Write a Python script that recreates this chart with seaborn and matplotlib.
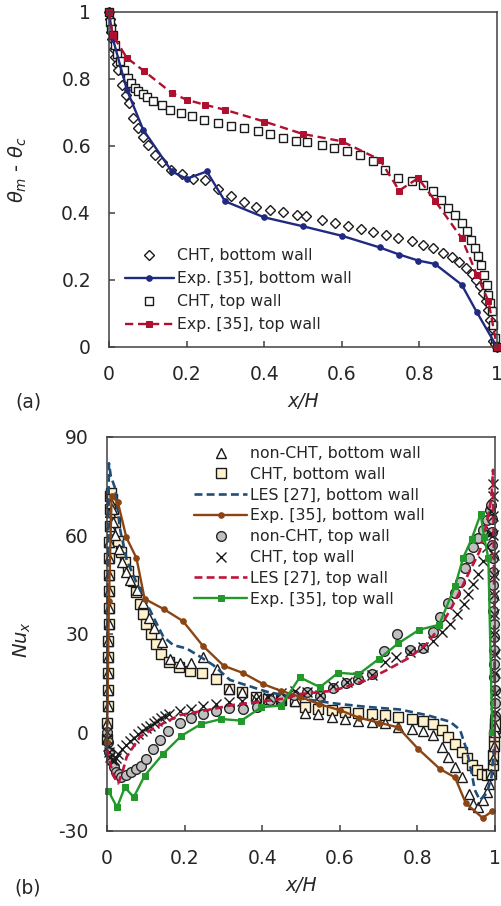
import matplotlib
matplotlib.use("Agg")
import matplotlib.pyplot as plt
import seaborn as sns

# ---------------- panel (a): theta_m - theta_c along the walls ----------------
a_cht_bot_x = [0.0, 0.002, 0.004, 0.006, 0.009, 0.012, 0.016, 0.020, 0.024, 0.033,
               0.043, 0.052, 0.063, 0.076, 0.088, 0.101, 0.119, 0.136, 0.160, 0.187,
               0.217, 0.247, 0.282, 0.314, 0.349, 0.380, 0.415, 0.449, 0.484, 0.509,
               0.548, 0.582, 0.617, 0.649, 0.681, 0.714, 0.746, 0.780, 0.810, 0.836,
               0.860, 0.883, 0.903, 0.920, 0.935, 0.946, 0.956, 0.965, 0.972, 0.978,
               0.982, 0.986, 0.991, 0.995, 1.0]
a_cht_bot_y = [1.0, 0.98, 0.96, 0.94, 0.92, 0.89, 0.865, 0.845, 0.828, 0.783,
               0.753, 0.728, 0.684, 0.654, 0.628, 0.604, 0.574, 0.552, 0.529, 0.515,
               0.502, 0.497, 0.473, 0.450, 0.433, 0.418, 0.410, 0.403, 0.395, 0.390,
               0.380, 0.370, 0.360, 0.353, 0.343, 0.335, 0.325, 0.317, 0.305, 0.296,
               0.281, 0.268, 0.254, 0.236, 0.218, 0.201, 0.181, 0.161, 0.136, 0.111,
               0.082, 0.058, 0.018, 0.008, 0.0]

a_cht_top_x = [0.0, 0.003, 0.006, 0.010, 0.015, 0.020, 0.028, 0.039, 0.050, 0.058,
               0.067, 0.076, 0.088, 0.099, 0.114, 0.136, 0.157, 0.186, 0.215, 0.246,
               0.280, 0.314, 0.349, 0.383, 0.415, 0.449, 0.481, 0.510, 0.548, 0.580,
               0.613, 0.647, 0.680, 0.711, 0.746, 0.780, 0.810, 0.836, 0.857, 0.875,
               0.892, 0.909, 0.922, 0.932, 0.943, 0.952, 0.960, 0.967, 0.973, 0.978,
               0.982, 0.986, 0.990, 0.995, 1.0]
a_cht_top_y = [1.0, 0.97, 0.95, 0.93, 0.90, 0.875, 0.853, 0.828, 0.803, 0.788,
               0.773, 0.765, 0.755, 0.745, 0.735, 0.721, 0.708, 0.699, 0.688, 0.678,
               0.669, 0.661, 0.654, 0.646, 0.636, 0.624, 0.616, 0.612, 0.604, 0.594,
               0.584, 0.572, 0.554, 0.529, 0.504, 0.494, 0.484, 0.465, 0.440, 0.415,
               0.393, 0.370, 0.345, 0.320, 0.296, 0.271, 0.246, 0.216, 0.186, 0.156,
               0.131, 0.106, 0.067, 0.027, 0.0]

a_exp_bot_x = [0.0, 0.01, 0.046, 0.088, 0.162, 0.200, 0.252, 0.299, 0.400, 0.501,
               0.600, 0.698, 0.748, 0.797, 0.840, 0.909, 0.948, 1.0]
a_exp_bot_y = [1.0, 0.92, 0.768, 0.649, 0.524, 0.502, 0.524, 0.435, 0.387, 0.360,
               0.332, 0.297, 0.276, 0.258, 0.248, 0.186, 0.104, 0.0]

a_exp_top_x = [0.0, 0.01, 0.046, 0.091, 0.162, 0.200, 0.247, 0.299, 0.400, 0.499,
               0.600, 0.698, 0.748, 0.797, 0.840, 0.909, 0.948, 0.978, 1.0]
a_exp_top_y = [1.0, 0.93, 0.863, 0.823, 0.758, 0.738, 0.723, 0.708, 0.673, 0.636,
               0.614, 0.559, 0.467, 0.504, 0.437, 0.325, 0.216, 0.137, 0.0]

# ---------------- panel (b): local Nusselt number ----------------
b_cht_bot_x = [0.000, 0.001, 0.0015, 0.002, 0.0025, 0.003, 0.0035, 0.004, 0.0045, 0.005,
               0.0055, 0.006, 0.0065, 0.007, 0.0075, 0.008, 0.010, 0.013, 0.016, 0.020,
               0.028, 0.037, 0.046, 0.054, 0.067, 0.076, 0.084, 0.093, 0.101, 0.114,
               0.127, 0.140, 0.160, 0.186, 0.215, 0.246, 0.282, 0.314, 0.349, 0.383,
               0.415, 0.449, 0.484, 0.510, 0.545, 0.580, 0.613, 0.648, 0.682, 0.716,
               0.749, 0.785, 0.815, 0.841, 0.863, 0.880, 0.897, 0.914, 0.927, 0.940,
               0.953, 0.966, 0.979, 0.989, 0.994, 0.996, 0.997, 0.998, 0.999, 1.0]
b_cht_bot_y = [-2, 3, 8, 13, 18, 23, 28, 33, 38, 43,
               48, 53, 58, 63, 68, 72, 73, 71, 68, 64,
               58.4, 54.9, 51.8, 49.3, 46.2, 42.7, 39.1, 36.1, 33.0, 30.0,
               27.0, 23.9, 21.4, 19.9, 18.6, 18.0, 16.3, 13.2, 12.2, 10.7,
               10.2, 9.9, 9.7, 7.7, 7.2, 6.7, 6.2, 5.9, 5.5, 5.2,
               4.7, 4.2, 3.5, 2.5, 0.7, -1.4, -3.4, -5.9, -7.9, -10.0,
               -11.5, -12.5, -13.0, -12.5, -10, -7, -4, -1, 1.5, 3]

b_noncht_bot_x = [0.000, 0.001, 0.0015, 0.002, 0.0025, 0.003, 0.0035, 0.004, 0.0045, 0.005,
                  0.0055, 0.006, 0.0065, 0.007, 0.008, 0.010, 0.013, 0.016, 0.020, 0.030,
                  0.040, 0.050, 0.060, 0.077, 0.094, 0.108, 0.121, 0.141, 0.162, 0.188,
                  0.216, 0.248, 0.283, 0.314, 0.349, 0.383, 0.415, 0.449, 0.484, 0.510,
                  0.545, 0.580, 0.613, 0.648, 0.682, 0.716, 0.749, 0.785, 0.815, 0.841,
                  0.863, 0.880, 0.897, 0.914, 0.932, 0.944, 0.957, 0.970, 0.979, 0.985,
                  0.991, 0.995, 0.997, 0.999, 1.0]
b_noncht_bot_y = [-2, 3, 8, 13, 18, 23, 28, 33, 38, 43,
                  48, 53, 58, 63, 67, 70, 68, 64, 60, 56,
                  52, 49, 46.5, 43.4, 39.3, 35.0, 31.7, 27.7, 22.3, 21.1,
                  21.1, 23.0, 19.3, 13.2, 12.2, 10.7, 10.2, 9.9, 9.7, 6.0,
                  5.6, 4.6, 4.1, 3.6, 3.3, 2.8, 1.8, 1.1, 0.4, -0.9,
                  -4.5, -7.5, -10.6, -13.6, -18.7, -21.7, -22.8, -20.7, -18.2, -15.6,
                  -12.6, -8, -4, 0, 2]

b_les_bot_x = [0.0, 0.002, 0.005, 0.010, 0.021, 0.034, 0.051, 0.077, 0.094, 0.119,
               0.145, 0.171, 0.205, 0.240, 0.274, 0.317, 0.412, 0.497, 0.583, 0.669,
               0.755, 0.824, 0.884, 0.910, 0.927, 0.940, 0.948, 0.961, 0.979, 0.991, 0.997]
b_les_bot_y = [-5, 40, 82, 78, 74.4, 61.7, 52.5, 45.4, 41.4, 35.3,
               29.2, 26.6, 25.6, 23.1, 20.5, 16.0, 12.4, 10.4, 8.9, 7.8,
               7.0, 5.3, 3.3, 0.8, -5.3, -12.4, -17.5, -20.6, -18.5, -13.5, -5]

b_exp_bot_x = [0.0, 0.005, 0.012, 0.028, 0.050, 0.076, 0.097, 0.146, 0.196, 0.247,
               0.301, 0.351, 0.403, 0.448, 0.497, 0.547, 0.600, 0.650, 0.700, 0.750,
               0.802, 0.858, 0.897, 0.925, 0.968, 0.993]
b_exp_bot_y = [-3, 40, 72, 70.1, 59.4, 53.1, 40.7, 37.6, 33.9, 26.4,
               20.3, 18.1, 14.7, 12.7, 10.9, 8.6, 6.8, 4.5, 3.0, 1.6,
               -5.0, -11.1, -13.7, -21.6, -26.0, -24.0]

b_noncht_top_x = [0.0, 0.002, 0.005, 0.010, 0.017, 0.024, 0.031, 0.037, 0.050, 0.063,
                  0.076, 0.088, 0.101, 0.119, 0.136, 0.157, 0.187, 0.217, 0.247, 0.282,
                  0.314, 0.351, 0.386, 0.420, 0.449, 0.481, 0.515, 0.549, 0.583, 0.617,
                  0.648, 0.682, 0.714, 0.747, 0.781, 0.814, 0.839, 0.858, 0.880, 0.897,
                  0.910, 0.923, 0.934, 0.944, 0.957, 0.968, 0.979, 0.987, 0.991, 0.9925,
                  0.993, 0.9935, 0.994, 0.9945, 0.995, 0.9955, 0.996, 0.9965, 0.997, 0.9975,
                  0.998, 0.9985, 0.999, 0.9995, 1.0]
b_noncht_top_y = [0, -3, -6, -8.5, -10.5, -12, -12.6, -13.6, -13.1, -12.1,
                  -11.1, -10.1, -8.0, -5.0, -2.4, 0.5, 3.0, 4.5, 5.5, 6.5,
                  7.5, 7.0, 7.9, 9.9, 10.5, 11.5, 12.4, 11.2, 13.5, 15.0,
                  16.3, 17.8, 24.8, 30.0, 25.0, 25.6, 30.7, 35.3, 39.3, 42.4,
                  45.9, 50.0, 53.1, 56.6, 59.1, 61.7, 64.7, 67.8, 69.3, 65,
                  61, 57, 53, 49, 45, 41, 37, 33, 29, 25,
                  21, 17, 13, 9, 5]

b_cht_top_x = [0.0, 0.001, 0.002, 0.004, 0.007, 0.012, 0.018, 0.023, 0.028, 0.040,
               0.050, 0.060, 0.070, 0.080, 0.090, 0.100, 0.110, 0.120, 0.130, 0.140,
               0.150, 0.160, 0.187, 0.217, 0.247, 0.282, 0.314, 0.349, 0.383, 0.415,
               0.449, 0.484, 0.515, 0.549, 0.583, 0.618, 0.648, 0.682, 0.716, 0.746,
               0.781, 0.815, 0.841, 0.863, 0.884, 0.901, 0.919, 0.931, 0.944, 0.957,
               0.970, 0.979, 0.986, 0.991, 0.994, 0.995, 0.9955, 0.996, 0.9965, 0.997,
               0.9975, 0.998, 0.9985, 0.999, 0.9993, 0.9996, 1.0]
b_cht_top_y = [0, -2, -4, -6, -7.5, -8.5, -8.5, -7.8, -6.6, -5.0,
               -3.8, -2.7, -1.6, -0.6, 0.4, 1.3, 2.1, 2.9, 3.6, 4.3,
               5.0, 5.6, 6.6, 7.1, 8.2, 8.7, 9.2, 9.7, 10.2, 10.7,
               11.9, 12.7, 12.4, 11.5, 14.3, 15.3, 16.8, 17.5, 21.4, 22.9,
               24.4, 25.9, 28.0, 30.5, 33.0, 36.1, 39.1, 42.2, 45.2, 48.3,
               52.3, 56.4, 60.5, 67.6, 75.7, 72, 66, 60, 54, 48,
               42, 36, 30, 24, 18, 12, 6]

b_les_top_x = [0.0, 0.008, 0.018, 0.029, 0.040, 0.051, 0.085, 0.128, 0.188, 0.257,
               0.326, 0.394, 0.463, 0.497, 0.583, 0.669, 0.721, 0.781, 0.823, 0.858,
               0.888, 0.910, 0.935, 0.961, 0.978, 0.991, 0.995, 0.998, 1.0]
b_les_top_y = [-5, -9.4, -13.5, -15.5, -12.0, -7.4, -1.3, 1.8, 5.3, 6.8,
               8.4, 9.4, 10.4, 11.7, 12.7, 15.9, 19.0, 22.9, 26.9, 32.0,
               38.0, 43.1, 49.2, 55.3, 63.4, 71.6, 80.0, 40.0, -8.0]

b_exp_top_x = [0.003, 0.026, 0.046, 0.069, 0.097, 0.144, 0.192, 0.243, 0.295, 0.346,
               0.398, 0.449, 0.497, 0.549, 0.596, 0.648, 0.702, 0.750, 0.805, 0.856,
               0.897, 0.918, 0.940, 0.963, 0.972, 0.983, 0.993]
b_exp_top_y = [-17.7, -22.8, -16.7, -19.7, -13.2, -6.6, -1.0, 2.6, 4.1, 3.6,
               7.7, 8.2, 16.8, 13.8, 18.2, 17.7, 22.5, 27.1, 31.3, 32.8,
               44.5, 53.2, 59.0, 66.5, 59.6, 53.0, 0.0]

x_ticks = [0, 0.2, 0.4, 0.6, 0.8, 1.0]
x_tick_labels = ["0", "0.2", "0.4", "0.6", "0.8", "1"]
a_y_ticks = [0, 0.2, 0.4, 0.6, 0.8, 1.0]
a_y_tick_labels = ["0", "0.2", "0.4", "0.6", "0.8", "1"]
b_y_ticks = [-30, 0, 30, 60, 90]

# ---------------- style ----------------
sns.set_theme(style="ticks", rc={"xtick.direction": "in", "ytick.direction": "in"})
plt.rcParams["font.family"] = ["DejaVu Sans"]
plt.rcParams["axes.unicode_minus"] = False
EDGE = "#404040"

fig = plt.figure(figsize=(5.02, 9.06), dpi=100)
ax_a = fig.add_axes([0.2171, 0.6170, 0.7729, 0.3698])
ax_b = fig.add_axes([0.2131, 0.0828, 0.7729, 0.4349])


def draw(ax, x, y, label, **kw):
    sns.lineplot(x=x, y=y, ax=ax, label=label, sort=False, estimator=None,
                 clip_on=False, **kw)


# panel (a) – open markers first, experimental lines on top
draw(ax_a, a_cht_bot_x, a_cht_bot_y, "CHT, bottom wall", linestyle="none",
     marker="D", markersize=4.8, mfc="white", mec="#1a1a1a", mew=1.0)
draw(ax_a, a_cht_top_x, a_cht_top_y, "CHT, top wall", linestyle="none",
     marker="s", markersize=6.3, mfc="white", mec="#1a1a1a", mew=1.0)
draw(ax_a, a_exp_bot_x, a_exp_bot_y, "Exp. [35], bottom wall", color="#1f2a80",
     linewidth=1.7, marker="o", markersize=4, mfc="#1f2a80", mec="#1f2a80")
draw(ax_a, a_exp_top_x, a_exp_top_y, "Exp. [35], top wall", color="#b0102f",
     linewidth=1.7, linestyle=(0, (3.5, 2)), marker="s", markersize=4,
     mfc="#b0102f", mec="#b0102f")

# panel (b)
draw(ax_b, b_cht_bot_x, b_cht_bot_y, "CHT, bottom wall", linestyle="none",
     marker="s", markersize=6.8, mfc="#fff2cc", mec="#1a1a1a", mew=1.0)
draw(ax_b, b_noncht_bot_x, b_noncht_bot_y, "non-CHT, bottom wall", linestyle="none",
     marker="^", markersize=6.8, mfc="white", mec="#1a1a1a", mew=1.0)
draw(ax_b, b_noncht_top_x, b_noncht_top_y, "non-CHT, top wall", linestyle="none",
     marker="o", markersize=7, mfc="#bfbfbf", mec="#262626", mew=1.0)
draw(ax_b, b_cht_top_x, b_cht_top_y, "CHT, top wall", linestyle="none",
     marker="x", markersize=6.5, color="#1a1a1a", mec="#1a1a1a", mew=1.0)
draw(ax_b, b_les_bot_x, b_les_bot_y, "LES [27], bottom wall", color="#1f4e79",
     linewidth=1.9, linestyle=(0, (3, 1.6)))
draw(ax_b, b_exp_bot_x, b_exp_bot_y, "Exp. [35], bottom wall", color="#8b4513",
     linewidth=1.7, marker="o", markersize=4, mfc="#8b4513", mec="#8b4513")
draw(ax_b, b_les_top_x, b_les_top_y, "LES [27], top wall", color="#c0143c",
     linewidth=1.9, linestyle=(0, (3, 1.6)))
draw(ax_b, b_exp_top_x, b_exp_top_y, "Exp. [35], top wall", color="#22992a",
     linewidth=1.7, marker="s", markersize=4, mfc="#22992a", mec="#22992a")

# axes cosmetics
for ax in (ax_a, ax_b):
    ax.set_xlim(0, 1)
    ax.set_xticks(x_ticks)
    ax.set_xticklabels(x_tick_labels)
    for sp in ax.spines.values():
        sp.set_color(EDGE)
        sp.set_linewidth(1.1)
    ax.tick_params(axis="both", direction="in", length=4, width=1.1, color=EDGE,
                   labelsize=13.5, labelcolor="#262626", pad=13)
    ax.set_xlabel("x/H", fontsize=13.5, style="italic", labelpad=6)

ax_a.set_ylim(0, 1)
ax_a.set_yticks(a_y_ticks)
ax_a.set_yticklabels(a_y_tick_labels)
ax_a.set_ylabel(r"$\theta_m$ - $\theta_c$", fontsize=14)
ax_a.yaxis.set_label_coords(-0.205, 0.53)

ax_b.set_ylim(-30, 90)
ax_b.set_yticks(b_y_ticks)
ax_b.set_ylabel(r"$Nu_x$", fontsize=14)
ax_b.yaxis.set_label_coords(-0.19, 0.485)

# legends
h, l = ax_a.get_legend_handles_labels()
order_a = ["CHT, bottom wall", "Exp. [35], bottom wall", "CHT, top wall",
           "Exp. [35], top wall"]
ax_a.legend([h[l.index(k)] for k in order_a], order_a, loc="upper left",
            bbox_to_anchor=(0.041, 0.295), frameon=False, fontsize=11.3,
            handlelength=3.1, handletextpad=0.25, labelspacing=0.51,
            borderpad=0, borderaxespad=0, numpoints=1)

h, l = ax_b.get_legend_handles_labels()
order_b = ["non-CHT, bottom wall", "CHT, bottom wall", "LES [27], bottom wall",
           "Exp. [35], bottom wall", "non-CHT, top wall", "CHT, top wall",
           "LES [27], top wall", "Exp. [35], top wall"]
ax_b.legend([h[l.index(k)] for k in order_b], order_b, loc="upper left",
            bbox_to_anchor=(0.224, 0.977), frameon=False, fontsize=11.3,
            handlelength=3.4, handletextpad=0.15, labelspacing=0.37,
            borderpad=0, borderaxespad=0, numpoints=1)

fig.text(28 / 502, 1 - 402 / 906, "(a)", fontsize=13.5, ha="center", va="center",
         color="#262626")
fig.text(28 / 502, 1 - 888 / 906, "(b)", fontsize=13.5, ha="center", va="center",
         color="#262626")

fig.savefig("out.png", dpi=100)
